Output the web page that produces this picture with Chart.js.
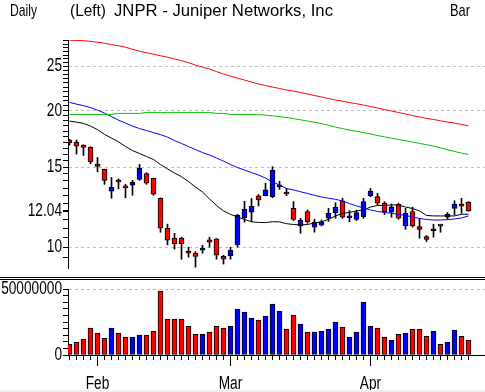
<!DOCTYPE html>
<html>
<head>
<meta charset="utf-8">
<script src="https://cdn.jsdelivr.net/npm/chart.js@4.4.1/dist/chart.umd.min.js"></script>
<style>
    html, body { margin: 0; padding: 0; background: #fff; }
    #wrap { position: relative; width: 485px; height: 392px; overflow: hidden; background: #fff; }
    canvas { position: absolute; left: 0; }
    .hd { position: absolute; top: 2px; font: 17px/17px "Liberation Sans", sans-serif; color: #000; white-space: nowrap; transform-origin: 0 0; }
    .sep { position: absolute; left: 0; width: 485px; height: 1px; background: #000; }
</style>
</head>
<body>
<div id="wrap">
    <canvas id="priceChart" width="485" height="280" style="top:0"></canvas>
    <canvas id="volumeChart" width="485" height="122" style="top:270px"></canvas>
    <div class="hd" style="left:10px" data-w="27">Daily</div>
    <div class="hd" style="left:70px" data-w="36">(Left)</div>
    <div class="hd" style="left:114px" data-w="219">JNPR - Juniper Networks, Inc</div>
    <div class="hd" style="left:450px" data-w="20">Bar</div>
    <div class="sep" style="top:277px"></div>
    <div class="sep" style="top:279px"></div>
    <div style="position:absolute;left:0;top:390px;width:485px;height:2px;background:#f0f0f0"></div>
</div>
<script>
// trading days shown
const dates = [
    '2002-01-28', '2002-01-29', '2002-01-30', '2002-01-31',
    '2002-02-01', '2002-02-04', '2002-02-05', '2002-02-06', '2002-02-07', '2002-02-08',
    '2002-02-11', '2002-02-12', '2002-02-13', '2002-02-14', '2002-02-15',
    '2002-02-19', '2002-02-20', '2002-02-21', '2002-02-22',
    '2002-02-25', '2002-02-26', '2002-02-27', '2002-02-28',
    '2002-03-01', '2002-03-04', '2002-03-05', '2002-03-06', '2002-03-07', '2002-03-08',
    '2002-03-11', '2002-03-12', '2002-03-13', '2002-03-14', '2002-03-15',
    '2002-03-18', '2002-03-19', '2002-03-20', '2002-03-21', '2002-03-22',
    '2002-03-25', '2002-03-26', '2002-03-27', '2002-03-28',
    '2002-04-01', '2002-04-02', '2002-04-03', '2002-04-04', '2002-04-05',
    '2002-04-08', '2002-04-09', '2002-04-10', '2002-04-11', '2002-04-12',
    '2002-04-15', '2002-04-16', '2002-04-17', '2002-04-18', '2002-04-19'
];
const monthNames = ['Jan', 'Feb', 'Mar', 'Apr', 'May', 'Jun', 'Jul', 'Aug', 'Sep', 'Oct', 'Nov', 'Dec'];

const openP = [
    17.22, 17.04, 16.79, 16.62, 15.25, 14.84, 13.28, 14.06, 13.53, 13.69,
    14.11, 14.52, 14.18, 12.82, 11.01, 10.47, 10.47, 9.80, 9.70, 9.85,
    10.38, 10.43, 9.55, 9.58, 10.12, 11.62, 11.94, 12.97, 12.99, 12.92,
    13.59, 13.15, 12.18, 11.14, 11.98, 11.07, 11.18, 11.58, 11.92, 12.66,
    11.61, 11.52, 11.68, 12.99, 12.92, 12.50, 11.94, 12.43, 11.14, 11.98,
    11.10, 10.55, 10.87, 11.15, 11.64, 12.18, 12.34, 12.56
];
const highP = [
    17.28, 17.22, 16.81, 16.65, 15.77, 14.86, 14.25, 14.15, 13.76, 14.04,
    15.22, 14.59, 14.20, 12.84, 11.24, 10.73, 10.52, 10.00, 9.78, 10.10,
    10.52, 10.45, 9.60, 10.00, 11.82, 12.62, 12.80, 13.06, 13.83, 15.04,
    13.97, 13.48, 12.60, 11.58, 12.08, 11.52, 11.48, 12.18, 12.53, 12.82,
    12.04, 12.08, 12.82, 13.48, 13.14, 12.60, 12.45, 12.50, 12.18, 12.25,
    11.58, 10.61, 11.24, 11.20, 11.92, 12.66, 12.82, 12.60
];
const lowP = [
    16.79, 16.04, 15.93, 15.27, 14.66, 13.76, 12.82, 13.45, 12.85, 13.01,
    14.04, 13.76, 13.01, 10.79, 10.12, 9.91, 9.41, 9.51, 9.04, 9.70,
    10.00, 9.41, 9.18, 9.41, 10.00, 11.35, 11.37, 12.33, 12.97, 12.85,
    13.41, 12.99, 11.44, 10.73, 11.29, 10.79, 11.14, 11.40, 11.58, 11.58,
    11.38, 11.44, 11.58, 12.92, 12.39, 11.80, 11.64, 11.52, 10.95, 11.07,
    10.47, 10.29, 10.52, 10.79, 11.52, 11.78, 11.88, 12.00
];
const closeP = [
    16.98, 16.70, 16.59, 15.43, 15.07, 14.04, 13.55, 13.90, 13.51, 13.90,
    14.92, 13.83, 13.08, 11.01, 10.36, 10.18, 10.18, 9.70, 9.54, 9.96,
    10.26, 9.60, 9.41, 9.85, 11.76, 12.12, 12.31, 12.71, 13.37, 14.79,
    13.69, 13.10, 11.52, 11.48, 11.38, 11.35, 11.38, 11.88, 12.25, 11.64,
    11.63, 11.92, 12.60, 13.30, 12.50, 11.98, 12.28, 11.58, 11.88, 11.14,
    10.95, 10.41, 10.89, 11.13, 11.82, 12.45, 12.32, 12.04
];
const volume = [
    8100000, 9600000, 11900000, 20300000, 16500000, 12700000, 20300000, 16500000, 13500000, 13500000,
    15000000, 15000000, 18000000, 48500000, 27200000, 27200000, 27200000, 21800000, 15700000, 15700000,
    17300000, 21800000, 20300000, 21800000, 34800000, 32500000, 27900000, 26400000, 29400000, 38600000,
    33200000, 19500000, 30200000, 23400000, 17300000, 17300000, 18000000, 19500000, 24900000, 21100000,
    13500000, 17300000, 40100000, 21800000, 20300000, 13500000, 11200000, 15700000, 16500000, 19500000,
    19500000, 14200000, 18000000, 8100000, 9600000, 18800000, 14200000, 11200000
];

// moving averages (short -> long)
const maShort = [
    18.96, 18.86, 18.74, 18.48, 18.16, 17.72, 17.39, 17.07, 16.66, 16.33,
    16.08, 15.84, 15.60, 15.21, 14.87, 14.57, 14.30, 13.95, 13.57, 13.23,
    12.77, 12.36, 12.02, 11.81, 11.66, 11.51, 11.38, 11.34, 11.33, 11.38,
    11.37, 11.27, 11.22, 11.20, 11.22, 11.31, 11.37, 11.52, 11.72, 11.87,
    11.93, 12.02, 12.08, 12.26, 12.36, 12.36, 12.39, 12.39, 12.26, 12.17,
    12.02, 11.75, 11.72, 11.72, 11.72, 11.72, 11.82, 11.82
];
const maMid = [
    20.84, 20.66, 20.50, 20.30, 20.04, 19.74, 19.39, 19.05, 18.77, 18.48,
    18.25, 18.07, 17.88, 17.70, 17.48, 17.17, 16.93, 16.66, 16.41, 16.16,
    15.96, 15.72, 15.48, 15.21, 14.98, 14.79, 14.60, 14.42, 14.20, 13.92,
    13.71, 13.47, 13.37, 13.25, 13.13, 13.01, 12.90, 12.82, 12.75, 12.64,
    12.48, 12.33, 12.20, 12.08, 11.99, 11.93, 11.88, 11.81, 11.75, 11.66,
    11.57, 11.51, 11.48, 11.48, 11.50, 11.54, 11.60, 11.72
];
const maLong = [
    19.61, 19.61, 19.61, 19.61, 19.61, 19.61, 19.61, 19.71, 19.71, 19.71,
    19.71, 19.81, 19.81, 19.81, 19.81, 19.81, 19.81, 19.81, 19.81, 19.81,
    19.81, 19.71, 19.71, 19.61, 19.61, 19.61, 19.61, 19.58, 19.54, 19.47,
    19.39, 19.30, 19.20, 19.08, 18.96, 18.84, 18.72, 18.56, 18.39, 18.25,
    18.11, 18.00, 17.88, 17.77, 17.62, 17.50, 17.38, 17.26, 17.17, 17.05,
    16.93, 16.82, 16.70, 16.55, 16.40, 16.25, 16.12, 16.01
];
const maLongest = [
    28.57, 28.54, 28.50, 28.40, 28.28, 28.14, 27.95, 27.78, 27.57, 27.29,
    27.02, 26.81, 26.61, 26.41, 26.21, 25.99, 25.75, 25.49, 25.18, 24.93,
    24.68, 24.37, 24.07, 23.82, 23.58, 23.34, 23.11, 22.88, 22.70, 22.53,
    22.36, 22.19, 22.08, 21.91, 21.75, 21.58, 21.42, 21.26, 21.10, 20.96,
    20.83, 20.70, 20.57, 20.41, 20.26, 20.10, 19.95, 19.80, 19.65, 19.50,
    19.35, 19.23, 19.11, 18.99, 18.87, 18.76, 18.64, 18.50
];

const priceLabels = [10, 12.04, 15, 20, 25];
const volumeLabels = [0, 50000000];

const UP = '#0000ff';
const DOWN = '#ff0000';
const tickFont = { family: '"Liberation Sans", sans-serif', size: 18 };
const TEXT_SQUEEZE = 0.76;

// 7px per bar, first bar 1.5px right of the axis
const xMin = -1.5 / 7;
const xMax = xMin + 417 / 7;

const barColors = closeP.map((c, i) => c >= openP[i] ? UP : DOWN);
const monthStarts = dates.map((d, i) => (i > 0 && d.slice(5, 7) !== dates[i - 1].slice(5, 7)) ? i : -1).filter(i => i >= 0);

function xy(arr) {
    return arr.map((v, i) => ({ x: i, y: v }));
}

// the original uses a tall narrow font: squeeze canvas text horizontally
function squeezeText(canvas) {
    const ctx = canvas.getContext('2d');
    const fill = ctx.fillText;
    ctx.fillText = function (text, x, y, maxWidth) {
        this.save();
        this.translate(x, y);
        this.scale(TEXT_SQUEEZE, 1);
        if (maxWidth === undefined) fill.call(this, text, 0, 0);
        else fill.call(this, text, 0, 0, maxWidth / TEXT_SQUEEZE);
        this.restore();
    };
}

document.querySelectorAll('.hd').forEach(el => {
    const k = parseFloat(el.dataset.w) / el.getBoundingClientRect().width;
    el.style.transform = `scaleX(${k})`;
});

const priceTicks = [];
for (let v = 9.5; v <= 28.5; v += 0.5) priceTicks.push(v);
priceTicks.push(12.04);

const priceCanvas = document.getElementById('priceChart');
squeezeText(priceCanvas);
new Chart(priceCanvas, {
    type: 'bar',
    data: {
        datasets: [
            {
                type: 'line', data: xy(maLongest), borderColor: '#ff0000', borderWidth: 1,
                pointRadius: 0, tension: 0, order: 1
            },
            {
                type: 'line', data: xy(maLong), borderColor: '#00c000', borderWidth: 1,
                pointRadius: 0, tension: 0, order: 1
            },
            {
                type: 'line', data: xy(maMid), borderColor: '#0000ff', borderWidth: 1,
                pointRadius: 0, tension: 0, order: 1
            },
            {
                type: 'line', data: xy(maShort), borderColor: '#000000', borderWidth: 1,
                pointRadius: 0, tension: 0, order: 1
            },
            {
                data: highP.map((h, i) => ({ x: i, y: [lowP[i], h] })),
                backgroundColor: '#000000', borderWidth: 0, barThickness: 1,
                grouped: false, order: 3
            },
            {
                data: openP.map((o, i) => ({ x: i, y: [o, closeP[i]] })),
                backgroundColor: barColors, borderColor: '#000000', borderWidth: 1,
                borderSkipped: false, barThickness: 5, minBarLength: 2,
                grouped: false, order: 2
            }
        ]
    },
    options: {
        responsive: false,
        animation: false,
        devicePixelRatio: 1,
        events: [],
        layout: { padding: { top: 40, bottom: 12, left: 0, right: 0 } },
        plugins: { legend: { display: false }, tooltip: { enabled: false } },
        scales: {
            x: { type: 'linear', display: false, offset: false, min: xMin, max: xMax, grid: { offset: false } },
            y: {
                type: 'logarithmic',
                min: 9.0,
                max: 28.6,
                afterFit: s => { s.width = 68; },
                afterBuildTicks: s => { s.ticks = priceTicks.map(v => ({ value: v })); },
                ticks: {
                    autoSkip: false,
                    color: '#000',
                    font: tickFont,
                    padding: 1,
                    callback: v => priceLabels.includes(v) ? String(v) : ''
                },
                grid: {
                    color: c => (c.tick && [10, 15, 20, 25].includes(c.tick.value)) ? '#c0c0c0' : 'rgba(0,0,0,0)',
                    tickColor: '#000',
                    tickLength: 5
                },
                border: { color: '#000', width: 1, dash: [3, 3] }
            }
        }
    }
});

const monthTicks = {
    id: 'monthTicks',
    afterDraw(chart) {
        const sx = chart.scales.x;
        const ctx = chart.ctx;
        ctx.save();
        ctx.strokeStyle = '#000';
        ctx.lineWidth = 1;
        monthStarts.forEach(i => {
            const px = Math.round(sx.getPixelForValue(i) - 0.5) + 0.5;
            ctx.beginPath();
            ctx.moveTo(px, sx.top);
            ctx.lineTo(px, sx.top + 11);
            ctx.stroke();
        });
        ctx.restore();
    }
};

const volumeCanvas = document.getElementById('volumeChart');
squeezeText(volumeCanvas);
new Chart(volumeCanvas, {
    type: 'bar',
    data: {
        datasets: [{
            data: xy(volume),
            backgroundColor: barColors, borderColor: '#000000', borderWidth: 1,
            borderSkipped: false, barThickness: 5
        }]
    },
    options: {
        responsive: false,
        animation: false,
        devicePixelRatio: 1,
        events: [],
        layout: { padding: { top: 19, bottom: 0, left: 0, right: 0 } },
        plugins: { legend: { display: false }, tooltip: { enabled: false } },
        scales: {
            x: {
                type: 'linear', offset: false, min: xMin, max: xMax,
                afterFit: s => { s.height = 37; },
                afterBuildTicks: s => { s.ticks = dates.map((d, i) => ({ value: i })); },
                ticks: {
                    autoSkip: false, maxRotation: 0, color: '#000', font: tickFont, padding: 13,
                    callback: v => monthStarts.includes(v) ? monthNames[parseInt(dates[v].slice(5, 7), 10) - 1] : ''
                },
                grid: { offset: false, drawOnChartArea: false, tickColor: '#000', tickLength: 5 },
                border: { color: '#000', width: 1 }
            },
            y: {
                min: 0,
                max: 50000000,
                afterFit: s => { s.width = 68; },
                afterBuildTicks: s => {
                    const t = [];
                    for (let v = 0; v <= 50000000; v += 5000000) t.push({ value: v });
                    s.ticks = t;
                },
                ticks: {
                    autoSkip: false, color: '#000', font: tickFont, padding: 1,
                    callback: v => volumeLabels.includes(v) ? String(v) : ''
                },
                grid: {
                    color: c => (c.tick && c.tick.value === 50000000) ? '#c0c0c0' : 'rgba(0,0,0,0)',
                    tickColor: '#000',
                    tickLength: 5
                },
                border: { color: '#000', width: 1, dash: [3, 3] }
            }
        }
    },
    plugins: [monthTicks]
});
</script>
</body>
</html>
